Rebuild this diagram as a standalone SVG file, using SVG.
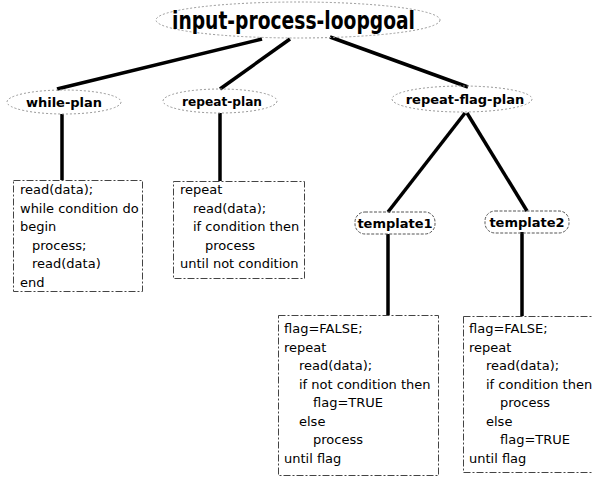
<svg xmlns="http://www.w3.org/2000/svg" width="593" height="481" viewBox="0 0 593 481">
<style>
.bg{fill:#fff}
.oval{fill:none;stroke:#999;stroke-width:1;stroke-dasharray:2 2}
.pill{fill:none;stroke:#555;stroke-width:1;stroke-dasharray:3 1.5}
.box{fill:none;stroke:#444;stroke-width:1;stroke-dasharray:7 2 2 2}
.lbl{font-family:"DejaVu Sans",sans-serif;font-weight:bold;font-size:13px;fill:#000}
.title{font-family:"DejaVu Sans",sans-serif;font-weight:bold;font-size:24px;fill:#000}
.code{font-family:"DejaVu Sans",sans-serif;font-size:13px;fill:#000}
.edge{stroke:#000;stroke-width:3.5;fill:none;stroke-linecap:butt}
</style>
<rect class="bg" x="0" y="0" width="593" height="481"/>
<g id="connectors">
<line class="edge" x1="262" y1="39" x2="57" y2="89"/>
<line class="edge" x1="290" y1="39" x2="220" y2="89"/>
<line class="edge" x1="330" y1="37" x2="468" y2="87"/>
<line class="edge" x1="62" y1="114" x2="62" y2="180"/>
<line class="edge" x1="220" y1="113" x2="220" y2="181"/>
<line class="edge" x1="465" y1="113" x2="388" y2="212"/>
<line class="edge" x1="467" y1="113" x2="527" y2="211"/>
<line class="edge" x1="388" y1="234" x2="388" y2="315"/>
<line class="edge" x1="522" y1="232" x2="522" y2="316"/>
</g>
<g id="goal">
<ellipse class="oval" cx="298" cy="20" rx="142" ry="18"/>
<text class="title" x="172" y="29" textLength="243" lengthAdjust="spacingAndGlyphs">input-process-loopgoal</text>
</g>
<g id="while-plan">
<ellipse class="oval" cx="64" cy="102" rx="57" ry="12"/>
<text class="lbl" x="64" y="106.5" text-anchor="middle">while-plan</text>
</g>
<g id="repeat-plan">
<ellipse class="oval" cx="220" cy="101" rx="57" ry="12"/>
<text class="lbl" x="222" y="105.5" text-anchor="middle" textLength="80" lengthAdjust="spacingAndGlyphs">repeat-plan</text>
</g>
<g id="repeat-flag-plan">
<ellipse class="oval" cx="462" cy="99" rx="70" ry="13"/>
<text class="lbl" x="465" y="104" text-anchor="middle">repeat-flag-plan</text>
</g>
<g id="template1">
<rect class="pill" x="355" y="212" width="80" height="22" rx="10"/>
<text class="lbl" x="395" y="227.5" text-anchor="middle">template1</text>
</g>
<g id="template2">
<rect class="pill" x="485" y="211" width="84" height="22" rx="10"/>
<text class="lbl" x="527" y="226.5" text-anchor="middle">template2</text>
</g>
<g id="box-while">
<rect class="box" x="13.5" y="180.5" width="129" height="111"/>
<text class="code" x="20" y="194">read(data);</text>
<text class="code" x="20" y="212.5">while condition do</text>
<text class="code" x="20" y="231">begin</text>
<text class="code" x="32" y="249.5">process;</text>
<text class="code" x="32" y="268">read(data)</text>
<text class="code" x="20" y="286.5">end</text>
</g>
<g id="box-repeat">
<rect class="box" x="173.5" y="181.5" width="131" height="97"/>
<text class="code" x="180" y="194">repeat</text>
<text class="code" x="193" y="212.5">read(data);</text>
<text class="code" x="193" y="231">if condition then</text>
<text class="code" x="205" y="249.5">process</text>
<text class="code" x="180" y="268">until not condition</text>
</g>
<g id="box-template1">
<rect class="box" x="278.5" y="315.5" width="160" height="160"/>
<text class="code" x="284" y="333">flag=FALSE;</text>
<text class="code" x="284" y="351.5">repeat</text>
<text class="code" x="299" y="370">read(data);</text>
<text class="code" x="299" y="388.5">if not condition then</text>
<text class="code" x="313" y="407">flag=TRUE</text>
<text class="code" x="299" y="425.5">else</text>
<text class="code" x="313" y="444">process</text>
<text class="code" x="284" y="462.5">until flag</text>
</g>
<g id="box-template2">
<rect class="box" x="463.5" y="316.5" width="140" height="156"/>
<text class="code" x="469" y="333">flag=FALSE;</text>
<text class="code" x="469" y="351.5">repeat</text>
<text class="code" x="486" y="370">read(data);</text>
<text class="code" x="486" y="388.5">if condition then</text>
<text class="code" x="500" y="407">process</text>
<text class="code" x="486" y="425.5">else</text>
<text class="code" x="500" y="444">flag=TRUE</text>
<text class="code" x="469" y="462.5">until flag</text>
</g>
</svg>
